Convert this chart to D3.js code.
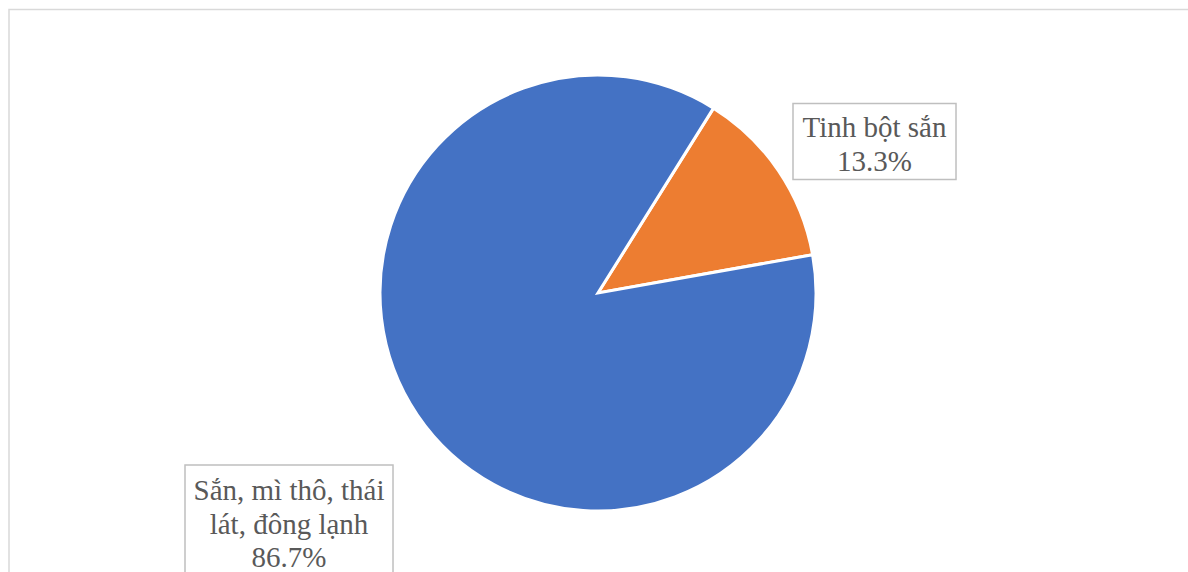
<!DOCTYPE html>
<html><head><meta charset="utf-8">
<script src="https://cdn.jsdelivr.net/npm/d3@7"></script>
<style>body{margin:0;background:#fff}svg{display:block}</style>
</head><body>
<script>
const categories = ["Tinh bột sắn", "Sắn, mì thô, thái lát, đông lạnh"];
const values = [13.3, 86.7];
const colors = ["#ED7D31", "#4472C4"];
const labelLines = [["Tinh bột sắn", "13.3%"], ["Sắn, mì thô, thái", "lát, đông lạnh", "86.7%"]];

const W = 1188, H = 572;
const svg = d3.select("body").append("svg").attr("width", W).attr("height", H);
// chart border
svg.append("path").attr("d", `M9,${H+5} V9.5 H${W+5}`).attr("fill","none").attr("stroke","#d9d9d9").attr("stroke-width",1.5);

const cx = 598, cy = 293, r = 218;
const startDeg = 32;
const pie = d3.pie().sort(null).value(d => d)
  .startAngle(startDeg*Math.PI/180).endAngle(startDeg*Math.PI/180 + 2*Math.PI);
const arc = d3.arc().innerRadius(0).outerRadius(r);
const g = svg.append("g").attr("transform", `translate(${cx},${cy})`);
g.selectAll("path").data(pie(values)).join("path")
  .attr("d", arc).attr("fill", (d,i)=>colors[i])
  .attr("stroke","#fff").attr("stroke-width",3).attr("stroke-linejoin","miter");

const boxes = [
  {x:793, y:103.5, w:163, h:76, ty:[137,171]},
  {x:185, y:465, w:208, h:120, ty:[500,534,567]}
];
boxes.forEach((b,i)=>{
  svg.append("rect").attr("x",b.x).attr("y",b.y).attr("width",b.w).attr("height",b.h)
    .attr("fill","#fff").attr("stroke","#bfbfbf").attr("stroke-width",1.5);
  labelLines[i].forEach((t,j)=>{
    svg.append("text").attr("x", b.x+b.w/2).attr("y", b.ty[j])
      .attr("text-anchor","middle").attr("font-family","'Liberation Serif', 'Times New Roman', serif")
      .attr("font-size",29).attr("fill","#595959").text(t);
  });
});
</script>
</body></html>
